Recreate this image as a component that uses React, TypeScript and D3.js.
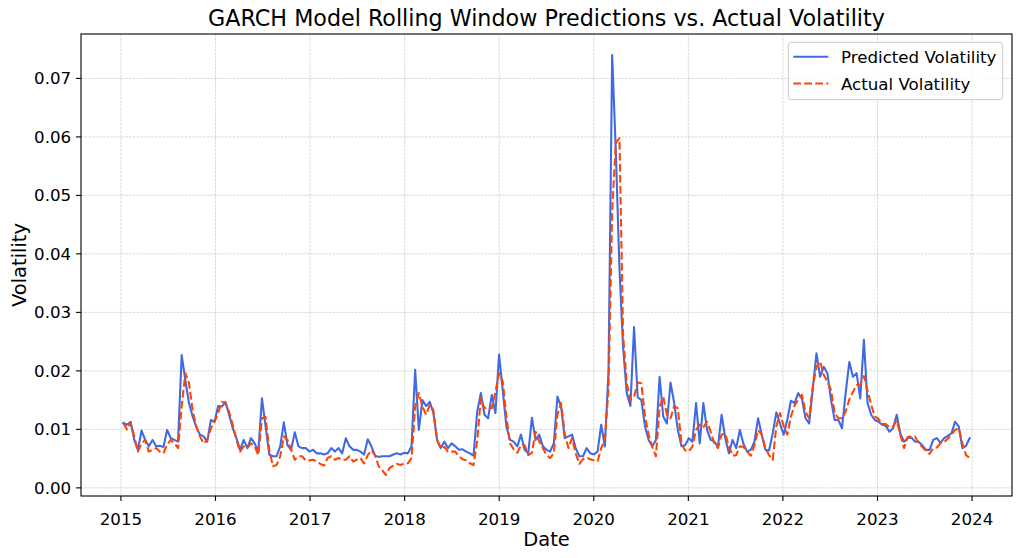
import React from "react";
import * as d3 from "d3";

// GARCH rolling-window predicted volatility (approx. bi-weekly samples)
const predicted: number[] = [
  0.0111, 0.0108, 0.0113, 0.0082, 0.0065, 0.0098, 0.0082, 0.0071, 0.0082, 0.0071,
  0.0072, 0.0070, 0.0099, 0.0085, 0.0082, 0.0079, 0.0227, 0.0184, 0.0145, 0.0122,
  0.0104, 0.0091, 0.0088, 0.0079, 0.0116, 0.0113, 0.0140, 0.0139, 0.0147, 0.0125,
  0.0102, 0.0085, 0.0065, 0.0082, 0.0068, 0.0085, 0.0076, 0.0062, 0.0153, 0.0105,
  0.0057, 0.0054, 0.0054, 0.0071, 0.0112, 0.0073, 0.0065, 0.0095, 0.0071, 0.0068,
  0.0068, 0.0062, 0.0065, 0.0059, 0.0059, 0.0057, 0.0059, 0.0068, 0.0062, 0.0068,
  0.0059, 0.0085, 0.0071, 0.0065, 0.0065, 0.0062, 0.0057, 0.0083, 0.0071, 0.0055,
  0.0053, 0.0054, 0.0054, 0.0054, 0.0057, 0.0059, 0.0057, 0.0060, 0.0059, 0.0071,
  0.0202, 0.0099, 0.0150, 0.0140, 0.0147, 0.0128, 0.0082, 0.0068, 0.0079, 0.0068,
  0.0076, 0.0071, 0.0065, 0.0066, 0.0062, 0.0059, 0.0055, 0.0130, 0.0162, 0.0125,
  0.0119, 0.0159, 0.0128, 0.0228, 0.0167, 0.0105, 0.0082, 0.0079, 0.0071, 0.0091,
  0.0065, 0.0059, 0.0120, 0.0082, 0.0091, 0.0071, 0.0065, 0.0062, 0.0076, 0.0156,
  0.0139, 0.0085, 0.0088, 0.0091, 0.0068, 0.0054, 0.0054, 0.0068, 0.0059, 0.0057,
  0.0062, 0.0108, 0.0071, 0.0200, 0.0740, 0.0576, 0.0375, 0.0240, 0.0162, 0.0140,
  0.0275, 0.0155, 0.0150, 0.0105, 0.0082, 0.0071, 0.0082, 0.0190, 0.0122, 0.0110,
  0.0180, 0.0145, 0.0099, 0.0071, 0.0073, 0.0085, 0.0079, 0.0145, 0.0076, 0.0145,
  0.0099, 0.0082, 0.0079, 0.0070, 0.0125, 0.0085, 0.0059, 0.0082, 0.0068, 0.0099,
  0.0075, 0.0062, 0.0065, 0.0079, 0.0119, 0.0091, 0.0065, 0.0064, 0.0093, 0.0129,
  0.0110, 0.0091, 0.0116, 0.0149, 0.0145, 0.0162, 0.0153, 0.0119, 0.0110, 0.0170,
  0.0230, 0.0190, 0.0207, 0.0196, 0.0150, 0.0116, 0.0116, 0.0102, 0.0162, 0.0215,
  0.0190, 0.0196, 0.0153, 0.0253, 0.0145, 0.0125, 0.0116, 0.0113, 0.0108, 0.0106,
  0.0096, 0.0102, 0.0125, 0.0092, 0.0079, 0.0085, 0.0086, 0.0079, 0.0079, 0.0073,
  0.0065, 0.0065, 0.0082, 0.0085, 0.0077, 0.0085, 0.0089, 0.0093, 0.0113, 0.0105,
  0.0068, 0.0072, 0.0085,
];

// Realised (actual) volatility, same sample dates
const actual: number[] = [
  0.0111, 0.0100, 0.0111, 0.0088, 0.0062, 0.0076, 0.0082, 0.0062, 0.0065, 0.0068,
  0.0062, 0.0059, 0.0074, 0.0082, 0.0076, 0.0068, 0.0139, 0.0196, 0.0179, 0.0133,
  0.0105, 0.0088, 0.0076, 0.0082, 0.0102, 0.0113, 0.0128, 0.0147, 0.0145, 0.0130,
  0.0108, 0.0082, 0.0062, 0.0071, 0.0068, 0.0076, 0.0071, 0.0056, 0.0119, 0.0121,
  0.0065, 0.0037, 0.0039, 0.0054, 0.0088, 0.0082, 0.0065, 0.0048, 0.0054, 0.0054,
  0.0047, 0.0047, 0.0048, 0.0045, 0.0041, 0.0038, 0.0051, 0.0054, 0.0048, 0.0051,
  0.0048, 0.0048, 0.0054, 0.0045, 0.0048, 0.0051, 0.0042, 0.0056, 0.0064, 0.0056,
  0.0037, 0.0030, 0.0022, 0.0034, 0.0038, 0.0041, 0.0039, 0.0042, 0.0042, 0.0051,
  0.0139, 0.0162, 0.0139, 0.0125, 0.0142, 0.0133, 0.0082, 0.0068, 0.0070, 0.0062,
  0.0062, 0.0062, 0.0054, 0.0049, 0.0047, 0.0042, 0.0039, 0.0080, 0.0153, 0.0136,
  0.0139, 0.0136, 0.0164, 0.0196, 0.0182, 0.0122, 0.0076, 0.0066, 0.0060, 0.0073,
  0.0073, 0.0056, 0.0060, 0.0096, 0.0079, 0.0068, 0.0056, 0.0051, 0.0059, 0.0125,
  0.0145, 0.0093, 0.0068, 0.0085, 0.0059, 0.0041, 0.0049, 0.0052, 0.0049, 0.0047,
  0.0045, 0.0068, 0.0082, 0.0170, 0.0474, 0.0590, 0.0598, 0.0260, 0.0179, 0.0150,
  0.0156, 0.0180, 0.0179, 0.0122, 0.0091, 0.0070, 0.0054, 0.0139, 0.0156, 0.0125,
  0.0119, 0.0140, 0.0136, 0.0076, 0.0064, 0.0062, 0.0071, 0.0099, 0.0108, 0.0104,
  0.0113, 0.0096, 0.0076, 0.0068, 0.0091, 0.0093, 0.0071, 0.0055, 0.0056, 0.0071,
  0.0070, 0.0062, 0.0055, 0.0073, 0.0099, 0.0091, 0.0068, 0.0056, 0.0048, 0.0105,
  0.0128, 0.0106, 0.0091, 0.0122, 0.0141, 0.0150, 0.0159, 0.0130, 0.0119, 0.0173,
  0.0207, 0.0216, 0.0193, 0.0182, 0.0167, 0.0128, 0.0119, 0.0119, 0.0130, 0.0151,
  0.0164, 0.0176, 0.0176, 0.0191, 0.0166, 0.0142, 0.0122, 0.0118, 0.0109, 0.0109,
  0.0104, 0.0105, 0.0115, 0.0091, 0.0068, 0.0087, 0.0088, 0.0088, 0.0076, 0.0070,
  0.0063, 0.0058, 0.0068, 0.0069, 0.0076, 0.0078, 0.0084, 0.0091, 0.0099, 0.0102,
  0.0076, 0.0056, 0.0051,
];

// first sample date (decimal year) and spacing between samples (~2 weeks)
const START_YEAR = 2015.0254;
const STEP_YEARS = 0.038575;

const xTickYears = [2015, 2016, 2017, 2018, 2019, 2020, 2021, 2022, 2023, 2024];
const yTickValues = [0, 0.01, 0.02, 0.03, 0.04, 0.05, 0.06, 0.07];

const TITLE = "GARCH Model Rolling Window Predictions vs. Actual Volatility";
const X_LABEL = "Date";
const Y_LABEL = "Volatility";
const SERIES = [
  { name: "Predicted Volatility", color: "#4169E1", dash: null as string | null },
  { name: "Actual Volatility", color: "#FF4500", dash: "7.7,3.3" },
];

const W = 1021;
const H = 558;
const PLOT = { left: 81, right: 1012, top: 34, bottom: 496 };
const FONT = "'DejaVu Sans', sans-serif";

export default function App() {
  const dates = predicted.map((_, i) => START_YEAR + i * STEP_YEARS);
  const xExt = [dates[0], dates[dates.length - 1]];
  const xPad = (xExt[1] - xExt[0]) * 0.05;
  const allVals = predicted.concat(actual);
  const yMin = d3.min(allVals) as number;
  const yMax = d3.max(allVals) as number;
  const yPad = (yMax - yMin) * 0.05;

  const x = d3.scaleLinear().domain([xExt[0] - xPad, xExt[1] + xPad]).range([PLOT.left, PLOT.right]);
  const y = d3.scaleLinear().domain([yMin - yPad, yMax + yPad]).range([PLOT.bottom, PLOT.top]);

  const line = d3
    .line<number>()
    .x((_, i) => x(dates[i]))
    .y((d) => y(d));

  const seriesData = [predicted, actual];
  const gridColor = "#b0b0b0";

  return (
    <div style={{ position: "absolute", left: 0, top: 0 }}>
      <svg width={W} height={H} style={{ display: "block", fontFamily: FONT }}>
        <rect x={0} y={0} width={W} height={H} fill="#ffffff" />
        {/* grid */}
        <g>
          {xTickYears.map((t) => (
            <line
              key={"gx" + t}
              x1={x(t)}
              x2={x(t)}
              y1={PLOT.top}
              y2={PLOT.bottom}
              stroke={gridColor}
              strokeOpacity={0.7}
              strokeWidth={0.7}
              strokeDasharray="2.6,1.1"
            />
          ))}
          {yTickValues.map((t) => (
            <line
              key={"gy" + t}
              x1={PLOT.left}
              x2={PLOT.right}
              y1={y(t)}
              y2={y(t)}
              stroke={gridColor}
              strokeOpacity={0.7}
              strokeWidth={0.7}
              strokeDasharray="2.6,1.1"
            />
          ))}
        </g>
        {/* series */}
        <defs>
          <clipPath id="plotclip">
            <rect x={PLOT.left} y={PLOT.top} width={PLOT.right - PLOT.left} height={PLOT.bottom - PLOT.top} />
          </clipPath>
        </defs>
        <g clipPath="url(#plotclip)">
          {seriesData.map((vals, si) => (
            <path
              key={SERIES[si].name}
              d={line(vals) || ""}
              fill="none"
              stroke={SERIES[si].color}
              strokeWidth={2.08}
              strokeLinejoin="round"
              strokeLinecap={SERIES[si].dash ? "butt" : "square"}
              strokeDasharray={SERIES[si].dash || undefined}
            />
          ))}
        </g>
        {/* spines */}
        <rect
          x={PLOT.left}
          y={PLOT.top}
          width={PLOT.right - PLOT.left}
          height={PLOT.bottom - PLOT.top}
          fill="none"
          stroke="#000"
          strokeWidth={1.1}
        />
        {/* x ticks */}
        {xTickYears.map((t) => (
          <g key={"xt" + t}>
            <line x1={x(t)} x2={x(t)} y1={PLOT.bottom} y2={PLOT.bottom + 4.9} stroke="#000" strokeWidth={1.1} />
            <text x={x(t)} y={525} textAnchor="middle" fontSize={16.67} fill="#000">
              {String(t)}
            </text>
          </g>
        ))}
        {/* y ticks */}
        {yTickValues.map((t) => (
          <g key={"yt" + t}>
            <line x1={PLOT.left - 4.9} x2={PLOT.left} y1={y(t)} y2={y(t)} stroke="#000" strokeWidth={1.1} />
            <text x={PLOT.left - 9.8} y={y(t) + 6} textAnchor="end" fontSize={16.67} fill="#000">
              {d3.format(".2f")(t)}
            </text>
          </g>
        ))}
        {/* labels */}
        <text x={(PLOT.left + PLOT.right) / 2} y={546} textAnchor="middle" fontSize={19.44} fill="#000">
          {X_LABEL}
        </text>
        <text
          transform={`translate(26, ${(PLOT.top + PLOT.bottom) / 2}) rotate(-90)`}
          textAnchor="middle"
          fontSize={19.44}
          fill="#000"
        >
          {Y_LABEL}
        </text>
        <text x={(PLOT.left + PLOT.right) / 2} y={26} textAnchor="middle" fontSize={22.22} fill="#000">
          {TITLE}
        </text>
        {/* legend */}
        <g>
          <rect
            x={788.3}
            y={42.3}
            width={214.4}
            height={57.4}
            rx={3}
            ry={3}
            fill="#ffffff"
            fillOpacity={0.8}
            stroke="#cccccc"
            strokeWidth={1}
          />
          {SERIES.map((s, i) => (
            <g key={"lg" + s.name}>
              <line
                x1={793.3}
                x2={828.3}
                y1={56.7 + i * 26.8}
                y2={56.7 + i * 26.8}
                stroke={s.color}
                strokeWidth={2.08}
                strokeDasharray={s.dash || undefined}
              />
              <text x={841} y={56.7 + i * 26.8 + 6} fontSize={16.67} fill="#000">
                {s.name}
              </text>
            </g>
          ))}
        </g>
      </svg>
    </div>
  );
}
